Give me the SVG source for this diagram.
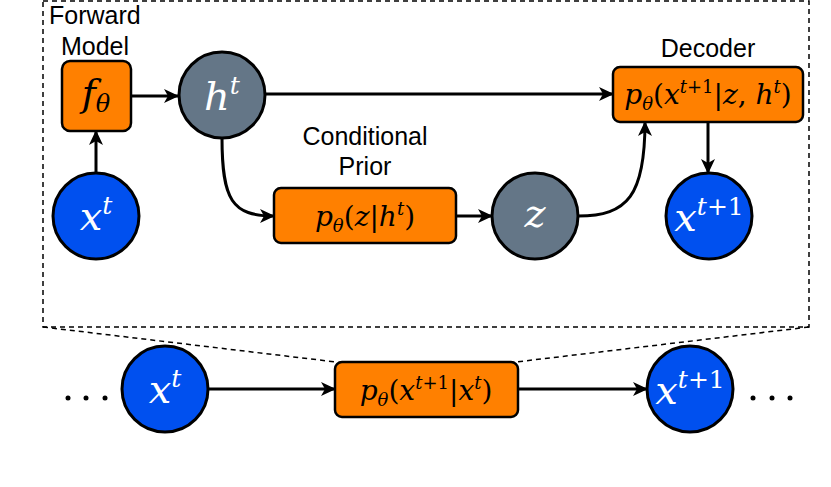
<svg xmlns="http://www.w3.org/2000/svg" width="831" height="487" viewBox="0 0 831 487">
<defs>
<marker id="arr" markerWidth="15" markerHeight="14" refX="14" refY="7" orient="auto" markerUnits="userSpaceOnUse" viewBox="0 0 15 14"><path d="M0,0 L15,7 L0,14 L4,7 z" fill="#000"/></marker>
<style>
.box{fill:#FF8000;stroke:#000;stroke-width:2.5}
.latent{fill:#647687;stroke:#000;stroke-width:3}
.obs{fill:#0050EF;stroke:#000;stroke-width:3}
.edge{fill:none;stroke:#000;stroke-width:3}
.lbl{font-family:"Liberation Sans",Arial,sans-serif;font-size:25px;fill:#000}
.m{font-family:"DejaVu Serif","Liberation Serif",serif;font-style:italic;fill:#000}
.up{font-style:normal}
.w{fill:#fff}
.dash{fill:none;stroke:#000;stroke-width:1.5;stroke-dasharray:5 4}
</style>
</defs>
<g id="frame">
<rect class="dash" x="43" y="1" width="766" height="326"/>
<line class="dash" x1="43" y1="327" x2="336" y2="362"/>
<line class="dash" x1="809" y1="327" x2="516" y2="362"/>
</g>
<g id="connectors">
<path class="edge" d="M131,96 L178,96" marker-end="url(#arr)"/>
<path class="edge" d="M96,173 L96,131" marker-end="url(#arr)"/>
<path class="edge" d="M266,94 L613,94" marker-end="url(#arr)"/>
<path class="edge" d="M222,138 C222,200 232,216 274,216" marker-end="url(#arr)"/>
<path class="edge" d="M456,216 L492,216" marker-end="url(#arr)"/>
<path class="edge" d="M578,216 C628,216 645,195 645,122" marker-end="url(#arr)"/>
<path class="edge" d="M708,122 L708,173" marker-end="url(#arr)"/>
<path class="edge" d="M208,389 L335,389" marker-end="url(#arr)"/>
<path class="edge" d="M518,389 L647,389" marker-end="url(#arr)"/>
</g>
<g id="labels">
<text class="lbl" x="49" y="24">Forward</text>
<text class="lbl" x="95" y="55" text-anchor="middle">Model</text>
<text class="lbl" x="365" y="145" text-anchor="middle">Conditional</text>
<text class="lbl" x="365" y="175" text-anchor="middle">Prior</text>
<text class="lbl" x="708" y="57" text-anchor="middle">Decoder</text>
</g>
<g id="f_theta">
<rect class="box" x="62" y="61" width="69" height="70" rx="8"/>
<text class="m" x="96" y="106" text-anchor="middle" font-size="38">f<tspan font-size="24" dy="6">θ</tspan></text>
</g>
<g id="h_t">
<circle class="latent" cx="222" cy="95" r="43"/>
<text class="m w" x="222" y="110" text-anchor="middle" font-size="40">h<tspan font-size="25" dy="-16">t</tspan></text>
</g>
<g id="x_t_top">
<circle class="obs" cx="96" cy="216" r="43"/>
<text class="m w" x="96" y="230" text-anchor="middle" font-size="40">x<tspan font-size="25" dy="-16">t</tspan></text>
</g>
<g id="prior">
<rect class="box" x="274" y="188" width="182" height="55" rx="7"/>
<text class="m" x="365" y="226" text-anchor="middle" font-size="28">p<tspan font-size="18" dy="6">θ</tspan><tspan class="up" dy="-6">(</tspan>z<tspan class="up">|</tspan>h<tspan font-size="18" dy="-11">t</tspan><tspan class="up" dy="11">)</tspan></text>
</g>
<g id="z">
<circle class="latent" cx="535" cy="216" r="43"/>
<text class="m w" x="535" y="227" text-anchor="middle" font-size="40">z</text>
</g>
<g id="decoder">
<rect class="box" x="613" y="67" width="190" height="55" rx="7"/>
<text class="m" x="708" y="104" text-anchor="middle" font-size="28">p<tspan font-size="18" dy="6">θ</tspan><tspan class="up" dy="-6">(</tspan>x<tspan font-size="18" dy="-11">t</tspan><tspan class="up" font-size="18">+1</tspan><tspan class="up" dy="11">|</tspan>z<tspan class="up">, </tspan>h<tspan font-size="18" dy="-11">t</tspan><tspan class="up" dy="11">)</tspan></text>
</g>
<g id="x_t1_top">
<circle class="obs" cx="709" cy="216" r="43"/>
<text class="m w" x="709" y="231" text-anchor="middle" font-size="40">x<tspan font-size="25" dy="-16">t</tspan><tspan class="up" font-size="25">+1</tspan></text>
</g>
<g id="x_t_bottom">
<circle class="obs" cx="165" cy="389" r="43"/>
<text class="m w" x="165" y="403" text-anchor="middle" font-size="40">x<tspan font-size="25" dy="-16">t</tspan></text>
</g>
<g id="transition">
<rect class="box" x="335" y="362" width="183" height="55" rx="7"/>
<text class="m" x="426" y="400" text-anchor="middle" font-size="28">p<tspan font-size="18" dy="6">θ</tspan><tspan class="up" dy="-6">(</tspan>x<tspan font-size="18" dy="-11">t</tspan><tspan class="up" font-size="18">+1</tspan><tspan class="up" dy="11">|</tspan>x<tspan font-size="18" dy="-11">t</tspan><tspan class="up" dy="11">)</tspan></text>
</g>
<g id="x_t1_bottom">
<circle class="obs" cx="690" cy="389" r="43"/>
<text class="m w" x="690" y="404" text-anchor="middle" font-size="40">x<tspan font-size="25" dy="-16">t</tspan><tspan class="up" font-size="25">+1</tspan></text>
</g>
<g id="ellipses">
<circle cx="68" cy="398" r="2.5"/><circle cx="86" cy="398" r="2.5"/><circle cx="105" cy="398" r="2.5"/>
<circle cx="753" cy="398" r="2.5"/><circle cx="772" cy="398" r="2.5"/><circle cx="790" cy="398" r="2.5"/>
</g>
</svg>
